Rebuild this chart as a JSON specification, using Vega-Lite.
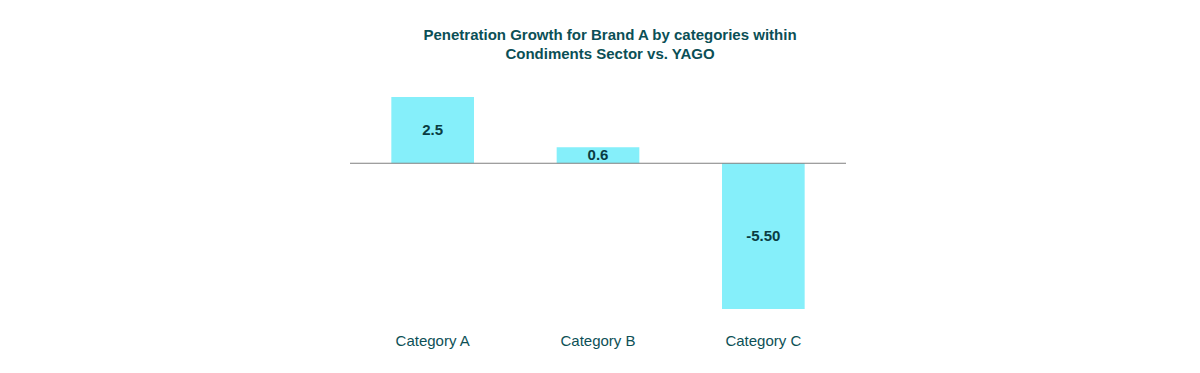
{
  "$schema": "https://vega.github.io/schema/vega-lite/v6.json",
  "autosize": {"type": "none"},
  "width": 496,
  "height": 212,
  "padding": {"left": 350, "top": 97, "right": 354, "bottom": 64},
  "background": "white",
  "config": {"view": {"stroke": null}, "font": "Liberation Sans"},
  "title": {
    "text": ["Penetration Growth for Brand A by categories within", "Condiments Sector vs. YAGO"],
    "fontSize": 15,
    "fontWeight": "bold",
    "color": "#0b4f56",
    "anchor": "middle",
    "dx": 12,
    "offset": 35,
    "lineHeight": 19,
    "font": "Liberation Sans"
  },
  "data": {
    "values": [
      {"category": "Category A", "value": 2.5, "label": "2.5"},
      {"category": "Category B", "value": 0.6, "label": "0.6"},
      {"category": "Category C", "value": -5.5, "label": "-5.50"}
    ]
  },
  "encoding": {
    "x": {
      "field": "category",
      "type": "nominal",
      "sort": null,
      "scale": {"paddingInner": 0.5, "paddingOuter": 0.25},
      "axis": {
        "title": null,
        "labelAngle": 0,
        "labelFontSize": 15,
        "labelColor": "#0d5056",
        "labelFont": "Liberation Sans",
        "ticks": false,
        "domain": false,
        "labelPadding": 24
      }
    }
  },
  "layer": [
    {
      "mark": {"type": "bar", "color": "#85effa"},
      "encoding": {
        "y": {
          "field": "value",
          "type": "quantitative",
          "scale": {"domain": [-5.5, 2.5], "nice": false, "zero": true},
          "axis": null
        }
      }
    },
    {
      "mark": {"type": "rule", "color": "#808080", "strokeWidth": 1},
      "data": {"values": [{"zero": 0}]},
      "encoding": {
        "x": null,
        "y": {"field": "zero", "type": "quantitative"}
      }
    },
    {
      "transform": [{"calculate": "datum.value / 2", "as": "mid"}],
      "mark": {"type": "text", "fontSize": 15, "fontWeight": "bold", "color": "#0a3c42", "font": "Liberation Sans", "baseline": "middle"},
      "encoding": {
        "y": {"field": "mid", "type": "quantitative"},
        "text": {"field": "label"}
      }
    }
  ]
}
